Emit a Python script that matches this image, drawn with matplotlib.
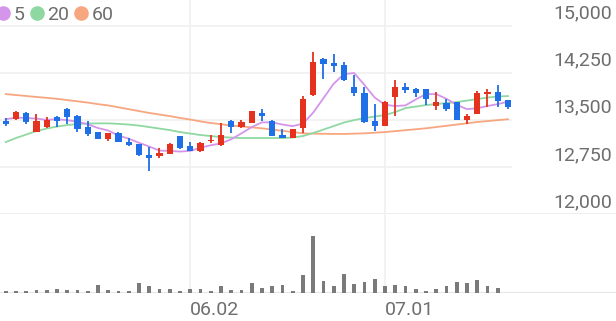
import matplotlib
matplotlib.use("Agg")
import matplotlib.pyplot as plt
from matplotlib.lines import Line2D
import numpy as np

plt.rcParams["font.family"] = ["Roboto", "DejaVu Sans"]

# ------------------------------------------------------------------ #
# Data (daily candles, 50 sessions)
# ------------------------------------------------------------------ #
opens = [13480, 13510, 13610, 13310, 13380, 13550, 13680, 13560, 13380, 13300,
         13195, 13295, 13150, 13110, 12940, 12920, 12955, 13240, 13080, 13000,
         13160, 13100, 13485, 13380, 13455, 13610, 13485, 13255, 13215, 13365,
         13895, 14470, 14410, 14370, 14030, 13935, 13485, 13405, 13870, 14025,
         13990, 13985, 13725, 13775, 13780, 13505, 13600, 13910, 13940, 13815]
highs = [13530, 13640, 13620, 13590, 13540, 13560, 13690, 13570, 13475, 13310,
         13290, 13300, 13205, 13120, 13065, 13050, 13125, 13250, 13150, 13140,
         13255, 13445, 13490, 13500, 13645, 13670, 13490, 13350, 13355, 13880,
         14585, 14480, 14545, 14425, 14210, 14025, 13750, 13795, 14135, 14090,
         14000, 13990, 13950, 13825, 13790, 13600, 13965, 13990, 14055, 13820]
lows = [13400, 13500, 13430, 13300, 13370, 13380, 13440, 13310, 13250, 13190,
        13170, 13140, 13090, 12930, 12690, 12890, 12950, 13030, 13000, 12995,
        13125, 13090, 13295, 13375, 13450, 13485, 13235, 13210, 13210, 13295,
        13880, 14145, 14265, 14125, 13880, 13455, 13325, 13400, 13560, 13920,
        13870, 13735, 13650, 13645, 13495, 13430, 13595, 13700, 13700, 13665]
closes = [13440, 13620, 13460, 13485, 13500, 13480, 13540, 13350, 13270, 13200,
          13285, 13150, 13100, 12940, 12900, 12970, 13110, 13045, 13005, 13135,
          13185, 13255, 13380, 13465, 13640, 13565, 13240, 13215, 13350, 13840,
          14425, 14390, 14365, 14130, 13925, 13460, 13405, 13790, 14030, 13975,
          13920, 13840, 13780, 13665, 13500, 13560, 13930, 13950, 13805, 13700]

ma5 = [13510, 13535, 13530, 13520, 13500, 13510, 13495, 13470, 13430, 13370,
       13330, 13250, 13200, 13135, 13075, 13010, 13005, 12995, 13005, 13055,
       13095, 13125, 13190, 13285, 13385, 13460, 13460, 13425, 13400, 13440,
       13615, 13845, 14075, 14230, 14245, 14055, 13855, 13740, 13720, 13730,
       13825, 13910, 13910, 13835, 13740, 13670, 13685, 13720, 13750, 13790]
ma20 = [13146, 13210, 13266, 13321, 13361, 13393, 13417, 13433, 13441, 13444,
        13444, 13436, 13425, 13409, 13385, 13361, 13337, 13305, 13282, 13258,
        13242, 13226, 13218, 13210, 13210, 13210, 13210, 13210, 13218, 13242,
        13290, 13345, 13401, 13457, 13496, 13528, 13552, 13576, 13624, 13688,
        13711, 13735, 13751, 13767, 13783, 13807, 13831, 13855, 13871, 13879]
ma60 = [13910, 13895, 13880, 13865, 13850, 13835, 13815, 13795, 13775, 13750,
        13730, 13700, 13670, 13640, 13610, 13585, 13560, 13530, 13505, 13475,
        13450, 13430, 13410, 13395, 13380, 13365, 13345, 13325, 13305, 13285,
        13280, 13278, 13276, 13275, 13280, 13285, 13295, 13305, 13320, 13335,
        13350, 13365, 13385, 13405, 13425, 13445, 13465, 13480, 13495, 13510]

volume = [27, 27, 27, 33, 33, 40, 33, 33, 27, 83,
          33, 27, 27, 100, 77, 43, 43, 27, 40, 43,
          27, 77, 33, 33, 107, 50, 77, 83, 27, 183,
          577, 123, 73, 193, 90, 113, 140, 77, 83, 73,
          40, 27, 40, 77, 113, 100, 133, 73, 57, 7]

price_ticks = [12000, 12750, 13500, 14250, 15000]
date_ticks = [18, 37]
date_labels = ["06.02", "07.01"]

UP = "#e4321f"
DOWN = "#1f6fe6"
C5, C20, C60 = "#d595ea", "#8fd8a2", "#f8a680"
GRID = "#f0f0f0"
TXT = "#6e6e6e"

# ------------------------------------------------------------------ #
# Layout
# ------------------------------------------------------------------ #
W, H = 616, 321
fig = plt.figure(figsize=(W / 100, H / 100), dpi=100)
ax = fig.add_axes([0, 1 - 214 / H, 1, 214 / H])
axv = fig.add_axes([0, 1 - 293.3 / H, 1, 79.3 / H])

step = 10.25
x0 = -5.7 / step
x1 = x0 + W / step
x_end = x0 + 512 / step
for a in (ax, axv):
    a.set_xlim(x0, x1)
    a.axis("off")

ax.set_ylim(12000, 15000 + 25.7 * 750 / 47.1)
axv.set_ylim(0, 793)

x = np.arange(len(closes))

# grid
for t in price_ticks[1:]:
    ax.hlines(t, x0, x_end, color=GRID, lw=1.2, zorder=0)
    ax.annotate(f"{t:,}", xy=(1, t), xycoords=("axes fraction", "data"),
                xytext=(-4, 12), textcoords="offset pixels",
                ha="right", va="center", fontsize=14, color=TXT)
ax.axhline(price_ticks[0], color="#ebebeb", lw=1.2, zorder=0)
ax.annotate(f"{price_ticks[0]:,}", xy=(1, price_ticks[0]), xycoords=("axes fraction", "data"),
            xytext=(-4, 12), textcoords="offset pixels",
            ha="right", va="center", fontsize=14, color=TXT)
for d, lab in zip(date_ticks, date_labels):
    ax.axvline(d, color=GRID, lw=1.2, zorder=0)
    axv.axvline(d, color=GRID, lw=1.2, zorder=0)
    axv.annotate(lab, xy=(d, 0), xytext=(0, -17), textcoords="offset pixels",
                 ha="left", va="center", fontsize=14, color=TXT)
axv.axhline(0, color="#e6e6e6", lw=1.5, zorder=0)

# moving averages
ax.plot(x, ma60, color=C60, lw=1.3, zorder=2)
ax.plot(x, ma20, color=C20, lw=1.3, zorder=2)
ax.plot(x, ma5, color=C5, lw=1.3, zorder=2)

# candles
o = np.array(opens)
c = np.array(closes)
cols = [UP if cc >= oo else DOWN for oo, cc in zip(o, c)]
ax.vlines(x, lows, highs, colors=cols, lw=1.3, zorder=3)
body = np.maximum(np.abs(c - o), 25)
ax.bar(x, body, bottom=np.minimum(o, c), width=0.6, color=cols, zorder=4)

# volume
axv.bar(x, volume, width=0.38, color="#7a7a7a", zorder=2)

# legend
handles = [Line2D([], [], marker="o", ls="", color=cc, markersize=9.5) for cc in (C5, C20, C60)]
fig.legend(handles, ["5", "20", "60"], loc="center left", bbox_to_anchor=(-0.004, 1 - 15 / H),
           ncol=3, frameon=False, fontsize=14, handlelength=0.6, handletextpad=0.25,
           columnspacing=0.3, borderpad=0, borderaxespad=0, labelcolor=TXT)

fig.savefig("out.png", dpi=100)
